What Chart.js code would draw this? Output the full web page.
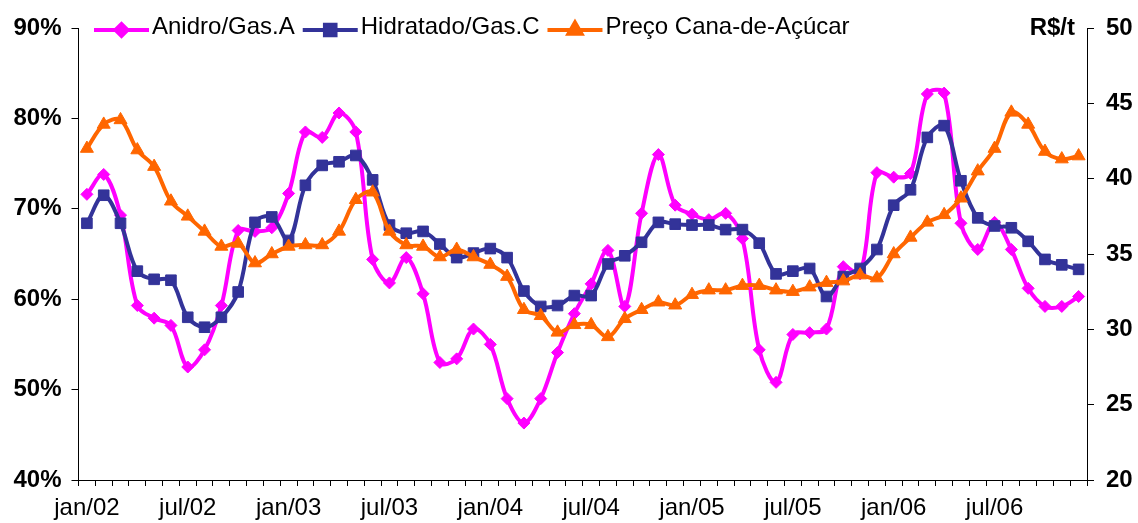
<!DOCTYPE html>
<html lang="pt-BR">
<head>
<meta charset="utf-8">
<title>Anidro/Gas.A, Hidratado/Gas.C e Preço Cana-de-Açúcar</title>
<script src="https://cdn.jsdelivr.net/npm/chart.js@4/dist/chart.umd.min.js"></script>
<style>
    html, body { margin: 0; padding: 0; background: #ffffff; }
    #grafico { display: block; }
</style>
</head>
<body>
<canvas id="grafico" width="1138" height="523"></canvas>
<script>
// ==========================================
// Dados
// ==========================================

// Meses (eixo X), de jan/02 até dez/06
const meses = [
    'jan/02', 'fev/02', 'mar/02', 'abr/02', 'mai/02', 'jun/02', 'jul/02', 'ago/02', 'set/02', 'out/02', 'nov/02', 'dez/02',
    'jan/03', 'fev/03', 'mar/03', 'abr/03', 'mai/03', 'jun/03', 'jul/03', 'ago/03', 'set/03', 'out/03', 'nov/03', 'dez/03',
    'jan/04', 'fev/04', 'mar/04', 'abr/04', 'mai/04', 'jun/04', 'jul/04', 'ago/04', 'set/04', 'out/04', 'nov/04', 'dez/04',
    'jan/05', 'fev/05', 'mar/05', 'abr/05', 'mai/05', 'jun/05', 'jul/05', 'ago/05', 'set/05', 'out/05', 'nov/05', 'dez/05',
    'jan/06', 'fev/06', 'mar/06', 'abr/06', 'mai/06', 'jun/06', 'jul/06', 'ago/06', 'set/06', 'out/06', 'nov/06', 'dez/06'
];

// Relação de preços (%) - eixo da esquerda
const anidroGasA = [
    71.6, 73.8, 69.3, 59.3, 57.9, 57.1, 52.5, 54.4, 59.3, 67.6, 67.5, 67.9,
    71.7, 78.5, 77.9, 80.6, 78.5, 64.4, 61.8, 64.6, 60.6, 53.0, 53.4, 56.7,
    55.0, 49.0, 46.3, 49.0, 54.1, 58.4, 61.7, 65.4, 59.2, 69.5, 76.0, 70.4,
    69.4, 68.8, 69.5, 66.7, 54.4, 50.8, 56.1, 56.3, 56.7, 63.6, 62.8, 74.0,
    73.5, 73.9, 82.7, 82.8, 68.4, 65.5, 68.5, 65.5, 61.2, 59.2, 59.2, 60.3
];

const hidratadoGasC = [
    68.4, 71.5, 68.4, 63.1, 62.2, 62.1, 58.0, 56.9, 58.0, 60.8, 68.5, 69.1,
    66.5, 72.6, 74.8, 75.2, 75.9, 73.2, 68.2, 67.3, 67.5, 66.1, 64.6, 65.1,
    65.6, 64.6, 60.9, 59.2, 59.3, 60.4, 60.4, 63.9, 64.8, 66.3, 68.5, 68.3,
    68.2, 68.2, 67.7, 67.7, 66.2, 62.8, 63.1, 63.4, 60.3, 62.5, 63.4, 65.5,
    70.4, 72.1, 77.9, 79.2, 73.1, 69.0, 68.1, 67.9, 66.4, 64.4, 63.8, 63.3
];

// Preço da cana (R$/t) - eixo da direita
const precoCana = [
    42.0, 43.6, 43.9, 41.9, 40.8, 38.5, 37.5, 36.5, 35.5, 35.7, 34.4, 35.0,
    35.5, 35.6, 35.6, 36.5, 38.6, 39.1, 36.5, 35.6, 35.5, 34.8, 35.3, 34.8,
    34.3, 33.5, 31.3, 30.9, 29.8, 30.3, 30.3, 29.5, 30.7, 31.3, 31.8, 31.6,
    32.3, 32.6, 32.6, 32.9, 32.9, 32.6, 32.5, 32.8, 33.1, 33.2, 33.6, 33.4,
    35.0, 36.1, 37.1, 37.6, 38.7, 40.5, 42.0, 44.4, 43.6, 41.8, 41.3, 41.5
];

// Escalas dos eixos
const eixoPct = { min: 40, max: 90, passo: 10 };
const eixoReais = { min: 20, max: 50, passo: 5 };

// ==========================================
// Estilo
// ==========================================
const FONTE = '"Liberation Sans", Arial, sans-serif';
const TAM_FONTE = 24;
const cores = {
    anidro: '#ff00ff',
    hidratado: '#333399',
    cana: '#ff6600'
};

// Legenda desenhada à mão: linha com marcador no meio + texto
const legendaPlugin = {
    id: 'legendaTopo',
    afterDraw(chart) {
        const ctx = chart.ctx;
        ctx.save();
        ctx.font = TAM_FONTE + 'px ' + FONTE;
        ctx.textBaseline = 'middle';
        ctx.textAlign = 'left';

        let x = 94;
        const yLinha = 30;
        chart.data.datasets.forEach(ds => {
            ctx.strokeStyle = ds.borderColor;
            ctx.lineWidth = 4;
            ctx.beginPath();
            ctx.moveTo(x, yLinha);
            ctx.lineTo(x + 55, yLinha);
            ctx.stroke();

            ctx.fillStyle = ds.borderColor;
            Chart.helpers.drawPoint(ctx, {
                pointStyle: ds.pointStyle,
                radius: ds.pointRadius,
                rotation: 0,
                borderWidth: 1
            }, x + 27.5, yLinha);
            ctx.fill();

            ctx.fillStyle = '#000000';
            ctx.fillText(ds.label, x + 58, yLinha - 3);
            x += 58 + ctx.measureText(ds.label).width + 8;
        });

        // Unidade do eixo da direita
        ctx.font = 'bold ' + TAM_FONTE + 'px ' + FONTE;
        ctx.textAlign = 'right';
        ctx.fillText('R$/t', 1075, chart.scales.yReais.getPixelForValue(eixoReais.max));
        ctx.restore();
    }
};

// Fundo branco no canvas
const fundoPlugin = {
    id: 'fundoBranco',
    beforeDraw(chart) {
        const ctx = chart.ctx;
        ctx.save();
        ctx.fillStyle = '#ffffff';
        ctx.fillRect(0, 0, chart.width, chart.height);
        ctx.restore();
    }
};

function serie(label, dados, cor, estilo, raio, eixo, ordem) {
    return {
        label: label,
        data: dados,
        yAxisID: eixo,
        borderColor: cor,
        backgroundColor: cor,
        pointBackgroundColor: cor,
        pointBorderColor: cor,
        borderWidth: 4,
        pointStyle: estilo,
        pointRadius: raio,
        pointBorderWidth: 1,
        tension: 0.35,
        fill: false,
        order: ordem
    };
}

// ==========================================
// Gráfico
// ==========================================
new Chart(document.getElementById('grafico').getContext('2d'), {
    type: 'line',
    data: {
        labels: meses,
        datasets: [
            serie('Anidro/Gas.A', anidroGasA, cores.anidro, 'rectRot', 6, 'yPct', 2),
            serie('Hidratado/Gas.C', hidratadoGasC, cores.hidratado, 'rect', 7.5, 'yPct', 1),
            serie('Preço Cana-de-Açúcar', precoCana, cores.cana, 'triangle', 7.5, 'yReais', 0)
        ]
    },
    options: {
        responsive: false,
        animation: false,
        layout: { padding: { top: 28, left: 0, right: 0, bottom: 0 } },
        plugins: {
            legend: { display: false },
            tooltip: { enabled: false }
        },
        scales: {
            x: {
                offset: true,
                grid: {
                    display: true,
                    offset: true,
                    drawOnChartArea: false,
                    drawTicks: true,
                    tickLength: 6,
                    color: '#000000'
                },
                border: { display: true, color: '#000000', width: 1 },
                ticks: {
                    autoSkip: false,
                    maxRotation: 0,
                    minRotation: 0,
                    padding: 8,
                    color: '#000000',
                    font: { family: FONTE, size: TAM_FONTE },
                    // só os rótulos de janeiro e julho
                    callback: (v, i) => (i % 6 === 0 ? meses[i] : '')
                },
                afterFit: s => { s.height = 43; }
            },
            yPct: {
                position: 'left',
                min: eixoPct.min,
                max: eixoPct.max,
                grid: { drawOnChartArea: false, tickLength: 7, color: '#000000' },
                border: { display: true, color: '#000000', width: 1 },
                ticks: {
                    stepSize: eixoPct.passo,
                    padding: 10,
                    color: '#000000',
                    font: { family: FONTE, size: TAM_FONTE, weight: 'bold' },
                    callback: v => v + '%'
                },
                afterFit: s => { s.width = 78.5; }
            },
            yReais: {
                position: 'right',
                min: eixoReais.min,
                max: eixoReais.max,
                grid: { drawOnChartArea: false, tickLength: 7, color: '#000000' },
                border: { display: true, color: '#000000', width: 1 },
                ticks: {
                    stepSize: eixoReais.passo,
                    padding: 12,
                    color: '#000000',
                    font: { family: FONTE, size: TAM_FONTE, weight: 'bold' }
                },
                afterFit: s => { s.width = 51; }
            }
        }
    },
    plugins: [fundoPlugin, legendaPlugin]
});
</script>
</body>
</html>
